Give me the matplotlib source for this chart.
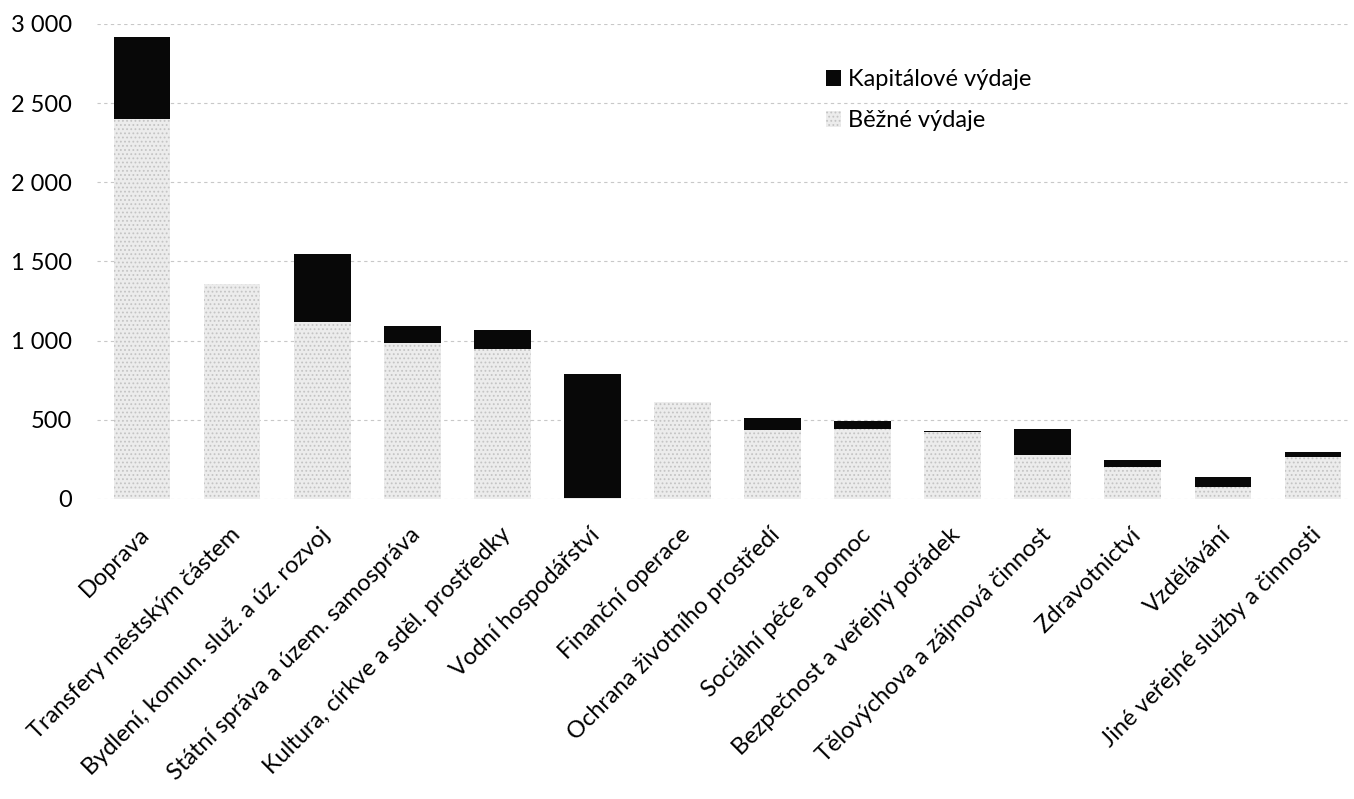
import matplotlib
matplotlib.use("Agg")
import matplotlib.pyplot as plt
import matplotlib.transforms as mtransforms
from matplotlib.ticker import FuncFormatter, MultipleLocator
import numpy as np

categories = [
    "Doprava",
    "Transfery městským částem",
    "Bydlení, komun. služ. a úz. rozvoj",
    "Státní správa a územ. samospráva",
    "Kultura, církve a sděl. prostředky",
    "Vodní hospodářství",
    "Finanční operace",
    "Ochrana životního prostředí",
    "Sociální péče a pomoc",
    "Bezpečnost a veřejný pořádek",
    "Tělovýchova a zájmová činnost",
    "Zdravotnictví",
    "Vzdělávání",
    "Jiné veřejné služby a činnosti",
]
bezne = [2400, 1360, 1120, 985, 950, 5, 612, 435, 440, 420, 280, 205, 77, 265]
kapitalove = [520, 0, 425, 105, 120, 785, 0, 75, 55, 12, 160, 40, 63, 32]

plt.rcParams["font.family"] = ["Lato", "DejaVu Sans"]
plt.rcParams["hatch.color"] = "#a8a8a8"
plt.rcParams["hatch.linewidth"] = 0.8

fig = plt.figure(figsize=(13.54, 7.99), dpi=100)
ax = fig.add_axes([0.0716, 0.3755, 0.9254, 0.5945])

x = np.arange(len(categories))
w = 0.63
ax.bar(x, bezne, width=w, color="#ececec", hatch="....", edgecolor="#c4c4c4",
       linewidth=0, label="Běžné výdaje")
ax.bar(x, kapitalove, width=w, bottom=bezne, color="#080808", linewidth=0,
       label="Kapitálové výdaje")

ax.set_ylim(0, 3000)
ax.set_xlim(-0.5, 13.41)
ax.yaxis.set_major_locator(MultipleLocator(500))
ax.yaxis.set_major_formatter(FuncFormatter(lambda v, p: f"{v:,.0f}".replace(",", " ")))
ax.grid(axis="y", color="#c8c8c8", linestyle=(0, (3, 3)), linewidth=0.8)
ax.set_axisbelow(True)
for s in ax.spines.values():
    s.set_visible(False)
ax.tick_params(axis="both", length=0)
ax.tick_params(axis="y", pad=18, labelsize=17)
ax.set_xticks(x)
ax.set_xticklabels(categories, rotation=45, ha="right", rotation_mode="anchor",
                   fontsize=17)
ax.tick_params(axis="x", pad=18)
offset = mtransforms.ScaledTranslation(-3 / 100, 0, fig.dpi_scale_trans)
for lbl in ax.get_xticklabels():
    lbl.set_transform(lbl.get_transform() + offset)

handles, labels = ax.get_legend_handles_labels()
leg = fig.legend(handles[::-1], labels[::-1], loc="upper left",
                 bbox_to_anchor=(0.603, 0.925), frameon=False, fontsize=17,
                 handlelength=0.65, handleheight=0.65, handletextpad=0.3,
                 labelspacing=0.85, borderaxespad=0)

fig.savefig("out.png", dpi=100, facecolor="white")
